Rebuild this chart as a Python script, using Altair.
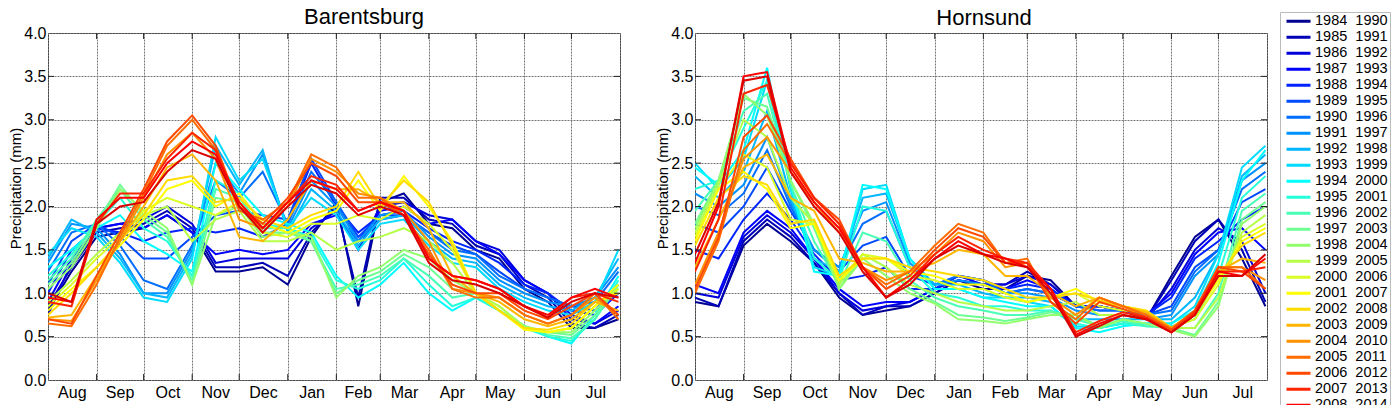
import altair as alt
import pandas as pd

# Knot days counted from 1 August
DAYS = [0, 15, 31, 46, 61, 76, 92, 107, 122, 137, 153, 168, 184, 198, 212,
        227, 243, 258, 273, 288, 304, 319, 334, 349, 364]
MONTH_STARTS = [0, 31, 61, 92, 122, 153, 184, 212, 243, 273, 304, 334, 365]
MONTHS = ["Aug", "Sep", "Oct", "Nov", "Dec", "Jan", "Feb", "Mar", "Apr", "May", "Jun", "Jul"]
MONTH_MIDS = [15.5, 46, 76.5, 107, 137.5, 168.5, 198, 227.5, 258, 288.5, 319, 349.5]
Y_TICKS = [0, 0.5, 1, 1.5, 2, 2.5, 3, 3.5, 4]

PERIODS = [
    "1984\u00a0\u00a01990", "1985\u00a0\u00a01991", "1986\u00a0\u00a01992", "1987\u00a0\u00a01993",
    "1988\u00a0\u00a01994", "1989\u00a0\u00a01995", "1990\u00a0\u00a01996", "1991\u00a0\u00a01997",
    "1992\u00a0\u00a01998", "1993\u00a0\u00a01999", "1994\u00a0\u00a02000", "1995\u00a0\u00a02001",
    "1996\u00a0\u00a02002", "1997\u00a0\u00a02003", "1998\u00a0\u00a02004", "1999\u00a0\u00a02005",
    "2000\u00a0\u00a02006", "2001\u00a0\u00a02007", "2002\u00a0\u00a02008", "2003\u00a0\u00a02009",
    "2004\u00a0\u00a02010", "2005\u00a0\u00a02011", "2006\u00a0\u00a02012", "2007\u00a0\u00a02013",
    "2008\u00a0\u00a02014", "2009\u00a0\u00a02015",
]
COLORS = [
    "#000092", "#0000b6", "#0000db", "#0000ff", "#0024ff", "#0049ff", "#006dff",
    "#0092ff", "#00b6ff", "#00dbff", "#00ffff", "#24ffdb", "#49ffb6", "#6dff92",
    "#92ff6d", "#b6ff49", "#dbff24", "#ffff00", "#ffdb00", "#ffb600", "#ff9200",
    "#ff6d00", "#ff4900", "#ff2400", "#ff0000", "#db0000",
]

# Barentsburg
B1984 = [0.80, 1.25, 1.65, 1.70, 1.75, 1.90, 1.70, 1.25, 1.25, 1.30, 1.10, 1.65, 2.05, 0.85, 2.05, 2.15, 1.80, 1.75, 1.50, 1.40, 1.05, 0.90, 0.60, 0.60, 0.70]
B1985 = [0.85, 1.30, 1.70, 1.75, 1.80, 1.95, 1.75, 1.30, 1.30, 1.35, 1.20, 1.70, 2.00, 0.95, 2.10, 2.10, 1.85, 1.80, 1.55, 1.45, 1.10, 0.95, 0.65, 0.60, 0.75]
B1986 = [0.75, 1.35, 1.75, 1.80, 1.85, 2.00, 1.80, 1.35, 1.40, 1.40, 1.40, 1.75, 1.95, 1.50, 2.00, 2.05, 1.90, 1.85, 1.60, 1.50, 1.15, 1.00, 0.70, 0.65, 0.80]
B1987 = [0.90, 1.40, 1.75, 1.80, 1.75, 1.90, 1.70, 1.45, 1.50, 1.45, 1.50, 1.80, 1.90, 1.60, 1.95, 2.00, 1.80, 1.85, 1.60, 1.45, 1.15, 1.00, 0.75, 0.65, 0.85]
B1988 = [1.00, 1.50, 1.75, 1.70, 1.60, 1.70, 1.75, 1.70, 1.75, 1.65, 1.80, 2.50, 2.00, 1.70, 1.90, 1.95, 1.75, 1.60, 1.50, 1.35, 1.10, 1.00, 0.80, 0.75, 1.00]
B1989 = [1.10, 1.60, 1.80, 1.65, 1.40, 1.40, 1.65, 1.90, 1.95, 1.90, 1.85, 2.55, 2.05, 1.65, 1.90, 1.90, 1.70, 1.55, 1.45, 1.25, 1.05, 0.95, 0.85, 0.80, 1.10]
B1990 = [1.25, 1.70, 1.80, 1.55, 1.15, 1.05, 1.55, 2.30, 2.10, 2.40, 1.80, 2.40, 2.05, 1.60, 1.85, 1.90, 1.70, 1.50, 1.45, 1.20, 1.05, 0.95, 0.85, 0.90, 1.25]
B1991 = [1.35, 1.80, 1.75, 1.45, 1.00, 1.00, 1.50, 2.50, 2.15, 2.60, 1.75, 2.30, 2.00, 1.60, 1.90, 1.95, 1.65, 1.45, 1.40, 1.15, 1.00, 0.90, 0.85, 0.95, 1.30]
B1992 = [1.40, 1.85, 1.70, 1.40, 1.00, 0.95, 1.45, 2.70, 2.25, 2.65, 1.70, 2.20, 1.95, 1.55, 1.85, 1.90, 1.60, 1.40, 1.35, 1.10, 0.95, 0.85, 0.80, 0.95, 1.40]
B1993 = [1.45, 1.75, 1.65, 1.35, 0.95, 0.90, 1.40, 2.80, 2.30, 2.55, 1.75, 2.10, 1.90, 1.50, 1.80, 1.85, 1.55, 1.35, 1.30, 1.05, 0.90, 0.80, 0.75, 0.90, 1.50]
B1994 = [1.30, 1.50, 1.75, 1.90, 1.60, 1.45, 1.25, 2.50, 2.20, 1.90, 1.80, 1.70, 1.20, 0.95, 1.10, 1.35, 1.00, 0.80, 0.95, 0.80, 0.60, 0.50, 0.42, 0.75, 1.20]
B1995 = [1.20, 1.45, 1.80, 2.10, 1.75, 1.60, 1.20, 2.30, 2.15, 1.80, 1.75, 1.65, 1.15, 1.05, 1.15, 1.40, 1.10, 0.85, 0.95, 0.80, 0.62, 0.50, 0.45, 0.70, 1.15]
B1996 = [1.15, 1.40, 1.85, 2.20, 1.85, 1.65, 1.15, 2.20, 2.10, 1.75, 1.75, 1.60, 1.05, 1.10, 1.20, 1.40, 1.20, 0.95, 1.00, 0.80, 0.62, 0.52, 0.48, 0.70, 1.10]
B1997 = [1.10, 1.35, 1.80, 2.25, 1.90, 1.70, 1.10, 2.10, 2.05, 1.70, 1.70, 1.60, 1.00, 1.15, 1.25, 1.45, 1.30, 1.05, 1.00, 0.80, 0.62, 0.55, 0.52, 0.75, 1.05]
B1998 = [1.05, 1.30, 1.75, 2.20, 1.95, 1.75, 1.10, 1.90, 2.00, 1.65, 1.70, 1.65, 0.95, 1.20, 1.30, 1.50, 1.40, 1.15, 1.00, 0.85, 0.62, 0.55, 0.55, 0.80, 1.05]
B1999 = [0.90, 1.15, 1.45, 1.70, 1.90, 2.00, 1.60, 1.85, 1.95, 1.60, 1.60, 1.70, 1.50, 1.60, 1.65, 1.75, 1.60, 1.35, 1.00, 0.85, 0.60, 0.55, 0.60, 0.85, 1.05]
B2000 = [0.85, 1.10, 1.40, 1.65, 1.95, 2.10, 2.00, 1.90, 2.05, 1.70, 1.65, 1.80, 1.80, 1.90, 1.85, 2.00, 1.80, 1.50, 1.00, 0.80, 0.60, 0.55, 0.60, 0.85, 1.05]
B2001 = [0.80, 1.05, 1.30, 1.55, 1.85, 2.20, 2.30, 2.00, 2.15, 1.80, 1.70, 1.85, 1.95, 2.30, 1.95, 2.35, 2.00, 1.60, 1.00, 0.80, 0.58, 0.55, 0.60, 0.85, 1.10]
B2002 = [0.75, 1.00, 1.30, 1.60, 1.90, 2.30, 2.35, 2.05, 2.10, 1.85, 1.75, 1.90, 2.00, 2.40, 2.00, 2.30, 2.05, 1.55, 1.00, 0.80, 0.60, 0.58, 0.65, 0.90, 1.00]
B2003 = [0.72, 0.75, 1.20, 1.60, 2.00, 2.45, 2.60, 2.30, 1.65, 1.60, 1.85, 2.30, 2.20, 2.20, 2.05, 2.05, 1.75, 1.20, 1.00, 0.90, 0.70, 0.62, 0.70, 0.90, 0.80]
B2004 = [0.70, 0.68, 1.15, 1.60, 2.10, 2.60, 2.85, 2.55, 1.85, 1.75, 2.00, 2.55, 2.40, 2.15, 2.10, 1.95, 1.60, 1.05, 1.00, 0.95, 0.75, 0.65, 0.75, 0.95, 0.75]
B2005 = [0.65, 0.62, 1.10, 1.65, 2.15, 2.70, 3.00, 2.65, 1.95, 1.85, 2.05, 2.60, 2.45, 2.10, 2.10, 1.90, 1.50, 1.05, 0.95, 0.95, 0.75, 0.65, 0.75, 1.00, 0.70]
B2006 = [0.70, 0.65, 1.20, 1.70, 2.20, 2.75, 3.05, 2.70, 2.00, 1.80, 2.10, 2.50, 2.35, 2.05, 2.05, 1.90, 1.45, 1.10, 1.00, 1.00, 0.80, 0.70, 0.85, 1.00, 0.75]
B2007 = [0.90, 0.85, 1.80, 2.15, 2.15, 2.55, 2.85, 2.65, 2.00, 1.75, 2.05, 2.35, 2.25, 1.95, 2.05, 1.95, 1.40, 1.20, 1.15, 1.05, 0.85, 0.72, 0.95, 1.00, 0.90]
B2008 = [0.95, 0.90, 1.85, 2.10, 2.10, 2.50, 2.75, 2.60, 2.05, 1.75, 2.05, 2.30, 2.20, 1.95, 2.05, 1.95, 1.40, 1.20, 1.15, 1.05, 0.85, 0.75, 0.95, 1.05, 0.95]
B2009 = [1.00, 0.90, 1.80, 2.00, 2.05, 2.40, 2.65, 2.55, 2.00, 1.70, 2.00, 2.25, 2.15, 1.90, 2.00, 1.90, 1.35, 1.15, 1.10, 1.00, 0.85, 0.72, 0.90, 1.00, 0.95]

# Hornsund
H1984 = [0.90, 0.85, 1.55, 1.80, 1.60, 1.35, 0.95, 0.75, 0.80, 0.85, 1.00, 1.15, 1.05, 1.05, 1.20, 1.15, 0.85, 0.85, 0.80, 0.70, 1.20, 1.65, 1.85, 1.40, 0.85]
H1985 = [0.95, 0.85, 1.60, 1.85, 1.65, 1.35, 1.00, 0.75, 0.85, 0.85, 1.00, 1.15, 1.10, 1.10, 1.25, 1.10, 0.85, 0.85, 0.80, 0.70, 1.15, 1.60, 1.85, 1.50, 0.90]
H1986 = [1.00, 0.95, 1.65, 1.90, 1.70, 1.40, 1.00, 0.80, 0.85, 0.90, 1.05, 1.15, 1.10, 1.10, 1.20, 1.10, 0.85, 0.85, 0.80, 0.70, 1.05, 1.50, 1.75, 1.60, 1.00]
H1987 = [1.10, 1.00, 1.70, 1.95, 1.75, 1.40, 1.05, 0.85, 0.90, 0.90, 1.05, 1.20, 1.10, 1.05, 1.15, 1.05, 0.85, 0.85, 0.80, 0.75, 1.00, 1.45, 1.70, 1.75, 1.50]
H1988 = [1.50, 1.40, 1.85, 2.15, 1.85, 1.45, 1.15, 1.20, 1.30, 1.05, 1.05, 1.20, 1.15, 1.05, 1.10, 1.05, 0.85, 0.85, 0.80, 0.75, 0.95, 1.40, 1.60, 1.85, 2.00]
H1989 = [1.80, 1.70, 2.00, 2.45, 1.95, 1.50, 1.25, 1.55, 1.65, 1.20, 1.10, 1.20, 1.15, 1.00, 1.05, 1.00, 0.85, 0.80, 0.80, 0.75, 0.85, 1.30, 1.50, 2.05, 2.20]
H1990 = [2.00, 1.90, 2.15, 2.65, 2.00, 1.50, 1.30, 1.80, 1.95, 1.30, 1.10, 1.20, 1.15, 1.00, 1.05, 1.00, 0.85, 0.80, 0.80, 0.75, 0.80, 1.25, 1.50, 2.20, 2.40]
H1991 = [2.15, 2.00, 2.25, 2.80, 2.05, 1.50, 1.30, 1.95, 2.05, 1.35, 1.10, 1.15, 1.10, 1.00, 1.00, 0.95, 0.80, 0.75, 0.75, 0.70, 0.75, 1.20, 1.45, 2.30, 2.50]
H1992 = [2.35, 2.10, 2.40, 3.10, 2.10, 1.40, 1.25, 2.10, 2.15, 1.40, 1.10, 1.10, 1.00, 0.95, 0.95, 0.90, 0.70, 0.70, 0.70, 0.70, 0.70, 0.95, 1.45, 2.35, 2.60]
H1993 = [2.50, 2.20, 2.55, 3.45, 2.20, 1.30, 1.20, 2.20, 2.25, 1.40, 1.05, 1.05, 0.95, 0.95, 0.90, 0.85, 0.62, 0.60, 0.65, 0.65, 0.65, 0.85, 1.45, 2.45, 2.70]
H1994 = [2.45, 2.25, 2.65, 3.60, 2.25, 1.25, 1.20, 2.25, 2.20, 1.40, 1.05, 1.05, 0.95, 0.90, 0.85, 0.85, 0.60, 0.55, 0.62, 0.65, 0.65, 0.80, 1.35, 2.30, 2.65]
H1995 = [2.20, 2.30, 2.90, 3.45, 2.25, 1.40, 1.15, 2.00, 1.95, 1.30, 1.00, 0.95, 0.85, 0.85, 0.80, 0.80, 0.65, 0.60, 0.65, 0.62, 0.62, 0.70, 1.20, 2.10, 2.35]
H1996 = [1.95, 2.30, 3.10, 3.30, 2.25, 1.60, 1.10, 1.70, 1.60, 1.15, 0.95, 0.85, 0.80, 0.75, 0.75, 0.80, 0.70, 0.62, 0.68, 0.62, 0.60, 0.60, 1.00, 1.95, 2.15]
H1997 = [1.80, 2.30, 3.25, 3.15, 2.30, 1.75, 1.05, 1.45, 1.30, 1.05, 0.90, 0.75, 0.72, 0.68, 0.72, 0.78, 0.75, 0.62, 0.70, 0.65, 0.60, 0.52, 0.90, 1.85, 2.05]
H1998 = [1.75, 2.30, 3.30, 3.05, 2.30, 1.80, 1.05, 1.40, 1.20, 1.00, 0.88, 0.70, 0.68, 0.65, 0.70, 0.75, 0.75, 0.60, 0.70, 0.65, 0.58, 0.50, 0.85, 1.80, 2.00]
H1999 = [1.70, 2.25, 3.00, 2.80, 2.10, 1.80, 1.10, 1.45, 1.30, 1.10, 1.00, 0.90, 0.85, 0.80, 0.80, 0.85, 0.90, 0.75, 0.75, 0.70, 0.60, 0.60, 0.95, 1.70, 1.90]
H2000 = [1.65, 2.20, 2.60, 2.45, 1.85, 1.80, 1.15, 1.45, 1.40, 1.20, 1.15, 1.05, 1.05, 0.95, 0.90, 0.95, 1.00, 0.85, 0.80, 0.78, 0.60, 0.70, 1.10, 1.65, 1.80]
H2001 = [1.60, 2.20, 2.40, 2.20, 1.75, 1.80, 1.15, 1.40, 1.40, 1.25, 1.20, 1.10, 1.10, 1.00, 0.90, 0.95, 1.05, 0.90, 0.85, 0.80, 0.60, 0.75, 1.15, 1.60, 1.75]
H2002 = [1.55, 2.10, 2.35, 2.25, 1.80, 1.85, 1.20, 1.40, 1.40, 1.30, 1.25, 1.20, 1.15, 1.05, 0.95, 0.95, 1.00, 0.92, 0.85, 0.80, 0.60, 0.75, 1.20, 1.55, 1.70]
H2003 = [1.30, 1.85, 2.45, 2.60, 2.10, 1.95, 1.40, 1.35, 1.25, 1.25, 1.35, 1.50, 1.45, 1.20, 1.20, 1.00, 0.85, 0.95, 0.85, 0.78, 0.60, 0.78, 1.25, 1.40, 1.35]
H2004 = [1.10, 1.70, 2.55, 2.80, 2.40, 2.05, 1.70, 1.30, 1.15, 1.25, 1.45, 1.70, 1.60, 1.30, 1.35, 0.95, 0.75, 0.95, 0.85, 0.75, 0.60, 0.80, 1.30, 1.30, 1.15]
H2005 = [1.00, 1.60, 2.65, 2.95, 2.50, 2.10, 1.80, 1.30, 1.10, 1.25, 1.55, 1.80, 1.70, 1.35, 1.40, 0.90, 0.70, 0.95, 0.85, 0.75, 0.58, 0.80, 1.30, 1.30, 1.05]
H2006 = [1.05, 1.65, 2.80, 3.05, 2.55, 2.10, 1.85, 1.30, 1.05, 1.20, 1.50, 1.75, 1.65, 1.35, 1.35, 0.90, 0.65, 0.90, 0.82, 0.72, 0.58, 0.80, 1.30, 1.25, 1.05]
H2007 = [1.25, 1.85, 3.30, 3.40, 2.50, 2.10, 1.80, 1.30, 0.95, 1.15, 1.45, 1.65, 1.50, 1.40, 1.35, 1.05, 0.55, 0.68, 0.78, 0.72, 0.55, 0.78, 1.25, 1.25, 1.30]
H2008 = [1.35, 2.00, 3.50, 3.55, 2.45, 2.05, 1.75, 1.30, 0.95, 1.15, 1.40, 1.60, 1.45, 1.40, 1.30, 1.05, 0.52, 0.65, 0.75, 0.70, 0.55, 0.75, 1.25, 1.20, 1.40]
H2009 = [1.45, 2.05, 3.45, 3.50, 2.40, 2.00, 1.70, 1.25, 0.95, 1.10, 1.40, 1.55, 1.45, 1.35, 1.30, 1.00, 0.50, 0.62, 0.75, 0.70, 0.55, 0.75, 1.20, 1.20, 1.45]

BARENTSBURG = [B1984, B1985, B1986, B1987, B1988, B1989, B1990, B1991, B1992, B1993,
               B1994, B1995, B1996, B1997, B1998, B1999, B2000, B2001, B2002, B2003,
               B2004, B2005, B2006, B2007, B2008, B2009]
HORNSUND = [H1984, H1985, H1986, H1987, H1988, H1989, H1990, H1991, H1992, H1993,
            H1994, H1995, H1996, H1997, H1998, H1999, H2000, H2001, H2002, H2003,
            H2004, H2005, H2006, H2007, H2008, H2009]

W, H = 572, 347
TICK = 6
FONT = "Liberation Sans"
GRID = dict(grid=True, gridColor="#777", gridDash=[2, 1], gridWidth=1)

X_SCALE = alt.Scale(domain=[0, 365], nice=False, zero=False)
Y_SCALE = alt.Scale(domain=[0, 4], nice=False)
X_AXIS = alt.Axis(values=MONTH_STARTS, labels=False, ticks=False, domain=False,
                  title=None, **GRID)
Y_AXIS = alt.Axis(values=Y_TICKS, format=".1f", title="Precipitation (mm)",
                  titleFont=FONT, titleFontSize=15, titleFontWeight="normal",
                  titleColor="black", titlePadding=0, titleY=155,
                  labelFont=FONT, labelFontSize=16, labelColor="black",
                  labelPadding=2, ticks=False, domain=False, **GRID)


def long_table(series):
    rows = []
    for period, values in zip(PERIODS, series):
        for d, v in zip(DAYS, values):
            rows.append({"period": period, "day": d, "value": v})
    return pd.DataFrame(rows)


def xenc(field):
    return alt.X(field, scale=X_SCALE, axis=X_AXIS)


def yenc(field):
    return alt.Y(field, scale=Y_SCALE, axis=Y_AXIS)


def panel(series, title, legend, dx, offset):
    lines = alt.Chart(long_table(series)).mark_line(strokeWidth=2, clip=True).encode(
        x=xenc("day:Q"),
        y=yenc("value:Q"),
        color=alt.Color("period:N", sort=PERIODS,
                        scale=alt.Scale(domain=PERIODS, range=COLORS), legend=legend),
    )
    months = alt.Chart(pd.DataFrame({"month": MONTHS, "day": MONTH_MIDS})).mark_text(
        font=FONT, fontSize=16, baseline="middle", color="black"
    ).encode(x=xenc("day:Q"), y=alt.value(H + 13), text="month:N")

    # inward tick marks on all four sides of the box
    xt = alt.Chart(pd.DataFrame({"day": MONTH_STARTS[1:-1]}))
    bottom_ticks = xt.mark_rule(color="#222").encode(
        x=xenc("day:Q"), y=alt.value(H), y2=alt.value(H - TICK))
    top_ticks = xt.mark_rule(color="#222").encode(
        x=xenc("day:Q"), y=alt.value(0), y2=alt.value(TICK))
    yt = alt.Chart(pd.DataFrame({"value": Y_TICKS[1:-1]}))
    left_ticks = yt.mark_rule(color="#222").encode(
        y=yenc("value:Q"), x=alt.value(0), x2=alt.value(TICK))
    right_ticks = yt.mark_rule(color="#222").encode(
        y=yenc("value:Q"), x=alt.value(W), x2=alt.value(W - TICK))

    return alt.layer(lines, months, bottom_ticks, top_ticks, left_ticks, right_ticks).properties(
        width=W, height=H,
        title=alt.TitleParams(title, font=FONT, fontSize=22, fontWeight="normal",
                              color="black", anchor="middle", frame="group",
                              offset=offset, dx=dx),
    )


legend = alt.Legend(
    title=None, orient="none", legendX=585, legendY=-21, direction="vertical",
    symbolType="stroke", symbolStrokeWidth=3, symbolSize=576, symbolOffset=3,
    labelFont=FONT, labelFontSize=14.5, labelColor="black", labelOffset=3,
    clipHeight=14.5, rowPadding=0, padding=2, labelLimit=200,
    strokeColor="#bbb", fillColor="white",
)

left = panel(BARENTSBURG, "Barentsburg", None, 30, -4)
right = panel(HORNSUND, "Hornsund", legend, 3, -18)

chart = (
    alt.hconcat(left, right, spacing=34)
    .resolve_scale(color="independent")
    .properties(padding={"left": 0, "top": -3, "right": 0, "bottom": 0})
    .configure_view(stroke="#222", strokeWidth=1)
)

chart.save("out.html", embed_options={"renderer": "svg", "actions": False})
